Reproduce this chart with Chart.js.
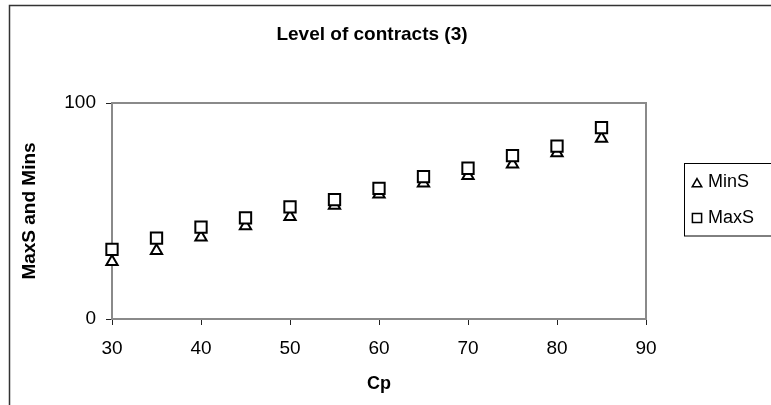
<!DOCTYPE html>
<html>
<head>
<meta charset="utf-8">
<script src="https://cdn.jsdelivr.net/npm/chart.js@4/dist/chart.umd.min.js"></script>
<style>
  html, body { margin: 0; padding: 0; background: #fff; }
  canvas { display: block; }
</style>
</head>
<body>
<canvas id="levelChart" width="771" height="405"></canvas>
<script>
// === DATA ===
const cpValues = [30, 35, 40, 45, 50, 55, 60, 65, 70, 75, 80, 85];
const minS = [26.5, 31.6, 37.8, 43.0, 47.3, 52.6, 57.8, 62.8, 66.3, 71.7, 76.8, 83.6];
const maxS = [32.2, 37.4, 42.5, 46.8, 51.9, 55.3, 60.5, 65.9, 69.8, 75.6, 80.0, 88.6];
const xTicks = [30, 40, 50, 60, 70, 80, 90];
const yTicks = [0, 100];

const FONT = 'Liberation Sans, Arial, sans-serif';
const toPoints = ys => cpValues.map((x, i) => ({ x, y: ys[i] }));

// frame, plot box, title and legend, drawn like the old spreadsheet chart
const decorations = {
    id: 'decorations',
    beforeDraw(chart) {
        const c = chart.ctx;
        c.save();
        c.fillStyle = '#fff';
        c.fillRect(0, 0, chart.width, chart.height);
        c.strokeStyle = '#333';
        c.lineWidth = 1.5;
        c.strokeRect(9.5, 5.5, 900, 600);
        c.restore();
    },
    beforeDatasetsDraw(chart) {
        const a = chart.chartArea, c = chart.ctx;
        c.save();
        c.strokeStyle = '#8a8a8a';
        c.lineWidth = 2;
        c.strokeRect(a.left, a.top, a.right - a.left, a.bottom - a.top);
        c.restore();
    },
    afterDraw(chart) {
        const c = chart.ctx;
        c.save();
        c.fillStyle = '#000';
        c.textAlign = 'center';
        c.textBaseline = 'middle';
        c.font = 'bold 19px ' + FONT;
        c.fillText('Level of contracts (3)', 372, 35);

        // legend
        c.strokeStyle = '#000';
        c.lineWidth = 1;
        c.strokeRect(684.5, 163.5, 100, 72.5);
        c.font = '18px ' + FONT;
        c.textAlign = 'left';
        const rows = [
            { ds: chart.data.datasets[1], y: 182.5, r: 5.5 },
            { ds: chart.data.datasets[0], y: 218, r: 6.5 }
        ];
        rows.forEach(row => {
            c.strokeStyle = '#000';
            c.fillStyle = '#fff';
            c.lineWidth = 1.5;
            Chart.helpers.drawPoint(c, { pointStyle: row.ds.pointStyle, radius: row.r, rotation: 0, borderWidth: 1.5 }, 697, row.ds.pointStyle === 'triangle' ? row.y + 1.5 : row.y);
            c.fillStyle = '#000';
            c.fillText(row.ds.label, 708, row.y);
        });
        c.restore();
    }
};

const ctx = document.getElementById('levelChart').getContext('2d');
new Chart(ctx, {
    type: 'scatter',
    data: {
        datasets: [
            { label: 'MaxS', data: toPoints(maxS), pointStyle: 'rect', pointRadius: 8, borderWidth: 2,
              borderColor: '#000', backgroundColor: '#fff', order: 0, clip: false },
            { label: 'MinS', data: toPoints(minS), pointStyle: 'triangle', pointRadius: 6.5, borderWidth: 2,
              borderColor: '#000', backgroundColor: '#fff', order: 1, clip: false }
        ]
    },
    options: {
        responsive: false,
        animation: false,
        layout: { padding: { top: 103, right: 125, bottom: 0, left: 0 } },
        plugins: { legend: { display: false }, tooltip: { enabled: false } },
        scales: {
            x: {
                type: 'linear', min: 30, max: 90,
                afterBuildTicks: s => { s.ticks = xTicks.map(v => ({ value: v })); },
                afterFit: s => { s.height = 86; },
                grid: { drawOnChartArea: false, drawTicks: true, tickLength: 6, color: '#222' },
                border: { color: '#222', width: 1.5 },
                ticks: { color: '#000', font: { family: FONT, size: 19 }, padding: 12, maxRotation: 0 },
                title: { display: true, text: 'Cp', color: '#000', font: { family: FONT, size: 18, weight: 'bold' }, padding: { top: 0, bottom: 10 } }
            },
            y: {
                min: 0, max: 100,
                afterBuildTicks: s => { s.ticks = yTicks.map(v => ({ value: v })); },
                afterFit: s => { s.width = 112; },
                grid: { drawOnChartArea: false, drawTicks: true, tickLength: 6, color: '#222' },
                border: { color: '#222', width: 1.5 },
                ticks: { color: '#000', font: { family: FONT, size: 19 }, padding: 10 },
                title: { display: true, text: 'MaxS and Mins', color: '#000', font: { family: FONT, size: 19, weight: 'bold' }, padding: { top: 18, bottom: 0 } }
            }
        }
    },
    plugins: [decorations]
});
</script>
</body>
</html>
